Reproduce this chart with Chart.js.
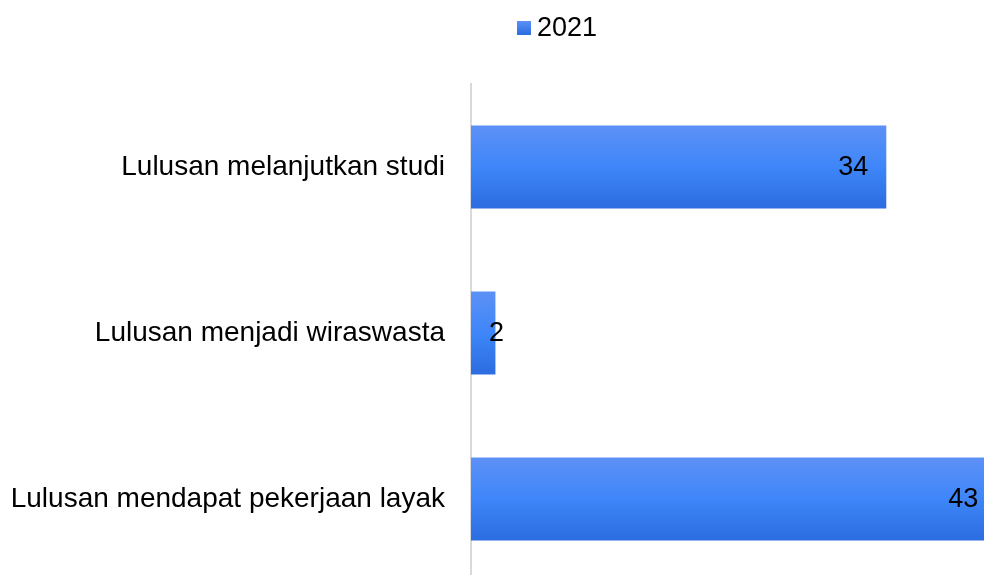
<!DOCTYPE html>
<html>
<head>
<meta charset="utf-8">
<script src="https://cdn.jsdelivr.net/npm/chart.js@4.4.1/dist/chart.umd.min.js"></script>
<style>
    html, body { margin: 0; padding: 0; background: #fff; overflow: hidden; }
    #wrap { width: 984px; height: 575px; overflow: hidden; }
    canvas { display: block; }
</style>
</head>
<body>
<div id="wrap"><canvas id="barChart" width="984" height="582"></canvas></div>
<script>
var categories = [
    "Lulusan melanjutkan studi",
    "Lulusan menjadi wiraswasta",
    "Lulusan mendapat pekerjaan layak"
];
var seriesName = "2021";
var values2021 = [34, 2, 43];

var FONT = "'Liberation Sans', Arial, sans-serif";

function barGradient(context) {
    var chart = context.chart;
    if (!chart.chartArea || !chart.scales.y) return '#3d85f8';
    var yc = chart.scales.y.getPixelForValue(context.dataIndex);
    var half = 42;
    var g = chart.ctx.createLinearGradient(0, yc - half, 0, yc + half);
    g.addColorStop(0, '#5d91f6');
    g.addColorStop(0.5, '#3e86f9');
    g.addColorStop(1, '#2b6ce0');
    return g;
}

// value labels, kept inside the bar end unless the bar is too short
var valueLabels = {
    id: 'valueLabels',
    afterDatasetsDraw: function(chart) {
        var c = chart.ctx;
        var meta = chart.getDatasetMeta(0);
        var base = chart.scales.x.getPixelForValue(0);
        c.save();
        c.font = '27px ' + FONT;
        c.fillStyle = '#000';
        c.textBaseline = 'middle';
        c.textAlign = 'left';
        meta.data.forEach(function(bar, i) {
            var txt = String(values2021[i]);
            var w = c.measureText(txt).width;
            var left = bar.x - 18 - w;
            if (left < base + 18) left = base + 18;
            c.fillText(txt, left, bar.y + 1);
        });
        c.restore();
    }
};

// simple legend above the plot
var topLegend = {
    id: 'topLegend',
    afterDraw: function(chart) {
        var c = chart.ctx;
        var x = chart.chartArea.left + 46;
        var y = 28;
        c.save();
        var g = c.createLinearGradient(0, y - 7, 0, y + 7);
        g.addColorStop(0, '#5d91f6');
        g.addColorStop(1, '#2b6ce0');
        c.fillStyle = g;
        c.fillRect(x, y - 7, 14, 14);
        c.font = '27px ' + FONT;
        c.fillStyle = '#000';
        c.textBaseline = 'middle';
        c.textAlign = 'left';
        c.fillText(seriesName, x + 20, y + 1);
        c.restore();
    }
};

var ctx = document.getElementById('barChart');
var myChart = new Chart(ctx, {
    type: 'bar',
    data: {
        labels: categories,
        datasets: [{
            label: seriesName,
            data: values2021,
            backgroundColor: barGradient,
            borderWidth: 0,
            barPercentage: 0.5,
            categoryPercentage: 1.0
        }]
    },
    options: {
        indexAxis: 'y',
        responsive: false,
        animation: false,
        layout: { padding: { top: 84, left: 0, right: 0, bottom: 0 } },
        plugins: {
            legend: { display: false },
            tooltip: { enabled: false }
        },
        scales: {
            x: {
                display: false,
                min: 0,
                max: 42
            },
            y: {
                offset: true,
                grid: { display: false, drawTicks: false },
                border: { display: true, color: '#d9d9d9', width: 2 },
                ticks: {
                    color: '#000',
                    padding: 26,
                    font: { family: FONT, size: 28 }
                },
                afterFit: function(scale) {
                    scale.width = 471;
                    scale.paddingTop = 0;
                    scale.paddingBottom = 0;
                }
            }
        }
    },
    plugins: [valueLabels, topLegend]
});
</script>
</body>
</html>
